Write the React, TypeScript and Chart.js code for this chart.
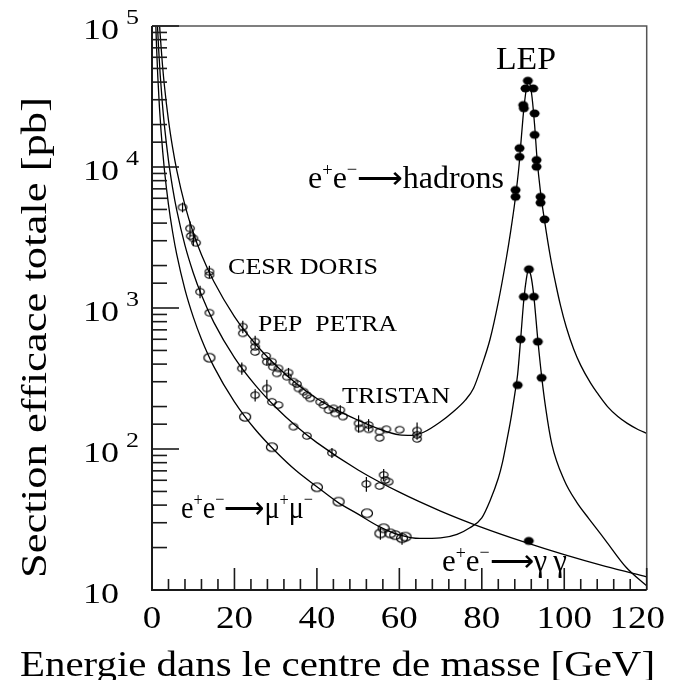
import React, { useEffect, useRef } from "react";
import { Chart, registerables } from "chart.js";
Chart.register(...registerables);

// ---------- theory curves ----------
const HAD_CURVE_E = [1.8, 2.0, 2.5, 3, 4, 5, 6, 8, 10, 12, 15, 20, 25, 30, 35, 40, 45, 50, 55, 60, 63, 66, 70, 73, 76, 78, 80, 82, 84, 86, 87, 88, 89, 89.5, 90, 90.5, 91.0, 91.3, 91.7, 92.2, 92.8, 93.4, 94.2, 95.2, 96.7, 98, 99.1, 100.5, 102.3, 104, 106.4, 108, 110.5, 113, 115.3, 118, 120];
const HAD_CURVE_S = [105500, 85400, 54700, 38000, 21400, 13700, 9500, 5340, 3420, 2390, 1540, 870, 560, 393, 292, 228, 188, 160, 139, 126, 125, 132, 156, 183, 222, 270, 390, 600, 1100, 2300, 3500, 5600, 10000, 15000, 22500, 31000, 38500, 40800, 38500, 31000, 20000, 11500, 6800, 4200, 2250, 1450, 1040, 730, 510, 392, 293, 250, 200, 170, 152, 137, 129];

const MU_CURVE_E = [0.9, 1.1, 1.4, 1.8, 2.2, 3, 4, 5, 6, 8, 10, 12, 15, 20, 25, 30, 35, 40, 45, 50, 55, 60, 65, 70, 74, 77, 80, 82, 84, 85, 86, 87, 88, 88.7, 89.4, 90.2, 90.8, 91.3, 91.9, 92.6, 93.6, 94.5, 95.5, 97, 100, 103, 106, 110, 115, 120];
const MU_CURVE_S = [106800, 71500, 44100, 26700, 17900, 9610, 5410, 3460, 2400, 1350, 865, 601, 384, 216, 138, 96, 70, 54, 42, 34.5, 28.3, 24.6, 23.2, 23.4, 24.8, 27.5, 32.5, 43, 62, 80, 112, 160, 245, 340, 590, 1150, 1600, 1860, 1700, 1230, 590, 330, 195, 108, 60, 42, 32, 22.5, 14.5, 10.7];

const GG_CURVE_E = [1.3, 1.6, 2, 2.5, 3, 4, 5, 6, 8, 10, 12, 15, 20, 25, 30, 35, 40, 50, 60, 70, 80, 90, 100, 110, 120];
const GG_CURVE_S = [105300, 69500, 44500, 28500, 19800, 11100, 7120, 4940, 2780, 1780, 1236, 791, 445, 285, 198, 145, 111, 71, 49.4, 36.3, 27.8, 22.0, 17.8, 14.7, 12.4];

// ---------- measurements (PETRA, PEP, CESR, DORIS, TRISTAN) ----------
const HAD_DATA_E = [7.41, 9.23, 9.40, 10.03, 10.69, 13.92, 13.92, 22.03, 22.03, 25.02, 25.02, 25.02, 27.69, 27.86, 29.08, 29.32, 30.29, 30.68, 32.72, 33.11, 34.32, 35.15, 35.54, 36.75, 37.58, 38.38, 40.81, 41.61, 42.83, 44.04, 44.45, 45.67, 46.32, 50.11, 50.36, 52.54, 52.54, 55.21, 55.21, 56.84, 60.07, 64.3, 64.3, 64.3];
const HAD_DATA_S = [5180, 3670, 3240, 3120, 2900, 1809, 1714, 737, 662, 577, 531, 488, 457, 416, 416, 383, 344, 373, 326, 348, 300, 289, 269, 255, 241, 229, 216, 205, 189, 194, 179, 189, 170, 152, 140, 148, 138, 133, 120, 138, 137, 135, 126, 118];
const HAD_DATA_ERR = [0.08, 0.12, 0, 0.12, 0, 0.1, 0, 0.1, 0, 0.1, 0, 0, 0, 0.06, 0, 0, 0, 0, 0, 0.08, 0, 0, 0, 0, 0, 0, 0, 0, 0, 0, 0, 0.08, 0, 0.14, 0, 0.1, 0, 0, 0, 0, 0, 0.14, 0, 0];

const GG_DATA_E = [11.66, 13.92, 21.79, 25.02, 27.86, 29.08, 30.68, 34.32, 37.58, 43.65, 52.0, 55.21, 56.2, 56.6, 57.4];
const GG_DATA_S = [1305, 926, 373, 241, 269, 216, 205, 144, 124, 94, 56.5, 54.7, 65.5, 60.3, 58.6];
const GG_DATA_ERR = [0.1, 0, 0.1, 0.1, 0.15, 0, 0, 0, 0, 0.08, 0.12, 0, 0.1, 0, 0];

const MU_DATA_E = [13.92, 22.59, 29.08, 40.0, 45.26, 52.15, 55.4, 56.2, 57.8, 59.0, 60.65, 61.5];
const MU_DATA_S = [444, 169, 103, 53.5, 42.3, 35, 25.2, 27.4, 25.2, 24.5, 23.3, 23.9];
const MU_DATA_ERR = [0, 0, 0, 0, 0, 0, 0.1, 0, 0, 0, 0.1, 0];

// ---------- LEP ----------
const LEP_HAD_E = [91.17, 90.6, 92.48, 90.05, 90.2, 92.8, 92.8, 89.15, 89.15, 93.28, 93.28, 88.18, 88.18, 94.25, 94.25, 95.22];
const LEP_HAD_S = [40900, 36100, 36100, 27500, 26100, 24000, 16900, 13600, 11800, 11200, 10050, 6870, 6150, 6150, 5580, 4250];
const LEP_MU_E = [91.43, 90.2, 92.63, 89.39, 93.6, 88.7, 94.5];
const LEP_MU_S = [1882, 1202, 1202, 600, 577, 284, 320];
const LEP_GG_E = [91.4];
const LEP_GG_S = [22.3];

// ---------- axes ----------
const X_TICK_VALUES = [0, 20, 40, 60, 80, 100, 120];
const X_TICK_LABELS = ["0", "20", "40", "60", "80", "100", "120"];
const Y_TICK_VALUES = [10, 100, 1000, 10000, 100000];
const Y_TICK_EXPONENTS = ["", "2", "3", "4", "5"];
const X_TITLE = "Energie dans le centre de masse [GeV]";
const Y_TITLE = "Section efficace totale [pb]";

const FONT = '"Liberation Serif", "Times New Roman", Times, serif';
const OFF = 8; // body margin: image coords -> canvas coords
const CANVAS_W = 658;
const CANVAS_H = 672;

type Seg = { t: string; s: number; dy: number };

function drawSegs(ctx: CanvasRenderingContext2D, segs: Seg[], x: number, y: number, width: number, align: "left" | "center" | "right" = "left", maxRight = Infinity) {
  let nat = 0;
  for (const g of segs) {
    ctx.font = `${g.s}px ${FONT}`;
    nat += ctx.measureText(g.t).width;
  }
  const sx = width > 0 ? width / nat : 1;
  const total = nat * sx;
  let x0 = align === "left" ? x : align === "center" ? x - total / 2 : x - total;
  if (x0 + total > maxRight) x0 = maxRight - total;
  ctx.save();
  ctx.translate(x0, y);
  ctx.scale(sx, 1);
  ctx.textAlign = "left";
  ctx.textBaseline = "alphabetic";
  ctx.fillStyle = "#000";
  let cx = 0;
  for (const g of segs) {
    ctx.font = `${g.s}px ${FONT}`;
    ctx.fillText(g.t, cx, g.dy);
    cx += ctx.measureText(g.t).width;
  }
  ctx.restore();
}

function pts(xs: number[], ys: number[]) {
  return xs.map((x, i) => ({ x, y: ys[i] }));
}

function ellipseImg(w: number, h: number, filled: boolean) {
  const c = document.createElement("canvas");
  c.width = Math.ceil(w + 3);
  c.height = Math.ceil(h + 3);
  const g = c.getContext("2d")!;
  g.beginPath();
  g.ellipse(c.width / 2, c.height / 2, w / 2, h / 2, 0, 0, Math.PI * 2);
  if (filled) {
    g.fillStyle = "#000";
    g.fill();
  } else {
    g.lineWidth = 1.2;
    g.strokeStyle = "#000";
    g.stroke();
  }
  return c;
}

const reaction = (tail: Seg[]): Seg[] => [
  { t: "e", s: 31, dy: 0 }, { t: "+", s: 18, dy: -12 }, { t: "e", s: 31, dy: 0 },
  { t: "\u2212", s: 18, dy: -13 }, { t: "\u27F6", s: 31, dy: 0 }, ...tail,
];

const axesPlugin = {
  id: "physAxes",
  afterDraw(chart: any) {
    const ctx: CanvasRenderingContext2D = chart.ctx;
    const { left: L, right: R, top: T, bottom: B } = chart.chartArea;
    const xs = chart.scales.x;
    const ys = chart.scales.y;
    ctx.save();
    ctx.strokeStyle = "#555";
    ctx.lineWidth = 1.5;
    ctx.beginPath();
    ctx.moveTo(L, T);
    ctx.lineTo(R, T);
    ctx.lineTo(R, B);
    ctx.stroke();
    ctx.strokeStyle = "#1a1a1a";
    ctx.lineWidth = 2;
    ctx.beginPath();
    ctx.moveTo(L, T);
    ctx.lineTo(L, B);
    ctx.lineTo(R, B);
    ctx.stroke();
    ctx.lineWidth = 1.6;
    for (const t of ys.ticks) {
      const v = t.value;
      if (v < 10 || v > 100000) continue;
      const lg = Math.log10(v);
      const major = Math.abs(lg - Math.round(lg)) < 1e-6;
      const y = ys.getPixelForValue(v);
      ctx.beginPath();
      ctx.moveTo(L, y);
      ctx.lineTo(L + (major ? 27 : 15), y);
      ctx.stroke();
    }
    for (const t of xs.ticks) {
      const v = t.value;
      const x = xs.getPixelForValue(v);
      const major = Math.abs(v % 20) < 1e-6;
      ctx.beginPath();
      ctx.moveTo(x, B);
      ctx.lineTo(x, B - (major ? 22 : 11));
      ctx.stroke();
    }
    ctx.restore();

    X_TICK_VALUES.forEach((v, i) => {
      const x = xs.getPixelForValue(v);
      const lab = X_TICK_LABELS[i];
      drawSegs(ctx, [{ t: lab, s: 31, dy: 0 }], x, 628 - OFF, lab.length * 18.5, "center", CANVAS_W - 1);
    });
    Y_TICK_VALUES.forEach((v, i) => {
      const y = ys.getPixelForValue(v);
      drawSegs(ctx, [{ t: "10", s: 30, dy: 0 }], 119 - OFF, y + 13, 36, "right");
      const ex = Y_TICK_EXPONENTS[i];
      if (ex) drawSegs(ctx, [{ t: ex, s: 21, dy: 0 }], 126 - OFF, y - 2, 13, "left");
    });

    drawSegs(ctx, [{ t: X_TITLE, s: 35, dy: 0 }], 20 - OFF, 676 - OFF, 635, "left");
    ctx.save();
    ctx.translate(46 - OFF, 578 - OFF);
    ctx.rotate(-Math.PI / 2);
    drawSegs(ctx, [{ t: Y_TITLE, s: 35, dy: 0 }], 0, 0, 481, "left");
    ctx.restore();

    drawSegs(ctx, [{ t: "LEP", s: 31, dy: 0 }], 496 - OFF, 69 - OFF, 60);
    drawSegs(ctx, reaction([{ t: "hadrons", s: 31, dy: 0 }]), 308 - OFF, 188 - OFF, 196);
    drawSegs(ctx, [{ t: "CESR DORIS", s: 23, dy: 0 }], 228 - OFF, 274 - OFF, 150);
    drawSegs(ctx, [{ t: "PEP  PETRA", s: 23, dy: 0 }], 258 - OFF, 331 - OFF, 139);
    drawSegs(ctx, [{ t: "TRISTAN", s: 23, dy: 0 }], 342 - OFF, 403 - OFF, 108);
    drawSegs(ctx, reaction([
      { t: "\u03BC", s: 31, dy: 0 }, { t: "+", s: 18, dy: -12 },
      { t: "\u03BC", s: 31, dy: 0 }, { t: "\u2212", s: 18, dy: -13 },
    ]), 181 - OFF, 518 - OFF, 132);
    drawSegs(ctx, reaction([{ t: "\u03B3\u2009\u03B3", s: 31, dy: 0 }]), 442 - OFF, 571 - OFF, 125);
  },
};

const errPlugin = {
  id: "errBars",
  afterDatasetsDraw(chart: any) {
    const ctx: CanvasRenderingContext2D = chart.ctx;
    const xs = chart.scales.x;
    const ys = chart.scales.y;
    ctx.save();
    ctx.strokeStyle = "#000";
    ctx.lineWidth = 1.2;
    chart.data.datasets.forEach((ds: any) => {
      if (!ds.errFrac) return;
      ds.data.forEach((p: any, i: number) => {
        const e = ds.errFrac[i];
        if (!e) return;
        const x = xs.getPixelForValue(p.x);
        ctx.beginPath();
        ctx.moveTo(x, ys.getPixelForValue(p.y * (1 + e)));
        ctx.lineTo(x, ys.getPixelForValue(p.y * (1 - e)));
        ctx.stroke();
      });
    });
    ctx.restore();
  },
};

export default function App() {
  const ref = useRef<HTMLCanvasElement>(null);
  useEffect(() => {
    if (!ref.current) return;
    const small = ellipseImg(8.5, 6.5, false);
    const big = ellipseImg(11, 8.5, false);
    const dot = ellipseImg(10, 8, true);
    const curve = (xs: number[], ys: number[]) => ({
      type: "line" as const,
      data: pts(xs, ys),
      borderColor: "#000",
      borderWidth: 1.3,
      pointRadius: 0,
      fill: false,
      cubicInterpolationMode: "monotone" as const,
    });
    const marks = (xs: number[], ys: number[], img: any, err?: number[]) => ({
      type: "line" as const,
      data: pts(xs, ys),
      showLine: false,
      pointStyle: img,
      pointRadius: 5,
      errFrac: err,
    });
    const chart = new Chart(ref.current, {
      type: "line",
      data: {
        datasets: [
          curve(HAD_CURVE_E, HAD_CURVE_S),
          curve(MU_CURVE_E, MU_CURVE_S),
          curve(GG_CURVE_E, GG_CURVE_S),
          marks(HAD_DATA_E, HAD_DATA_S, small, HAD_DATA_ERR),
          marks(GG_DATA_E, GG_DATA_S, small, GG_DATA_ERR),
          marks(MU_DATA_E, MU_DATA_S, big, MU_DATA_ERR),
          marks(LEP_HAD_E, LEP_HAD_S, dot),
          marks(LEP_MU_E, LEP_MU_S, dot),
          marks(LEP_GG_E, LEP_GG_S, dot),
        ] as any,
      },
      options: {
        responsive: false,
        animation: false,
        devicePixelRatio: 1,
        layout: { padding: { left: 144, top: 18, right: 19.3, bottom: 90 } },
        plugins: { legend: { display: false }, tooltip: { enabled: false } },
        scales: {
          x: { type: "linear", display: false, min: 0, max: 120, ticks: { stepSize: 4, autoSkip: false } },
          y: { type: "logarithmic", display: false, min: 10, max: 100000, ticks: { autoSkip: false } },
        },
      } as any,
      plugins: [errPlugin, axesPlugin],
    });
    return () => chart.destroy();
  }, []);
  return (
    <div style={{ width: CANVAS_W, height: CANVAS_H }}>
      <canvas ref={ref} width={CANVAS_W} height={CANVAS_H} style={{ display: "block" }} />
    </div>
  );
}
